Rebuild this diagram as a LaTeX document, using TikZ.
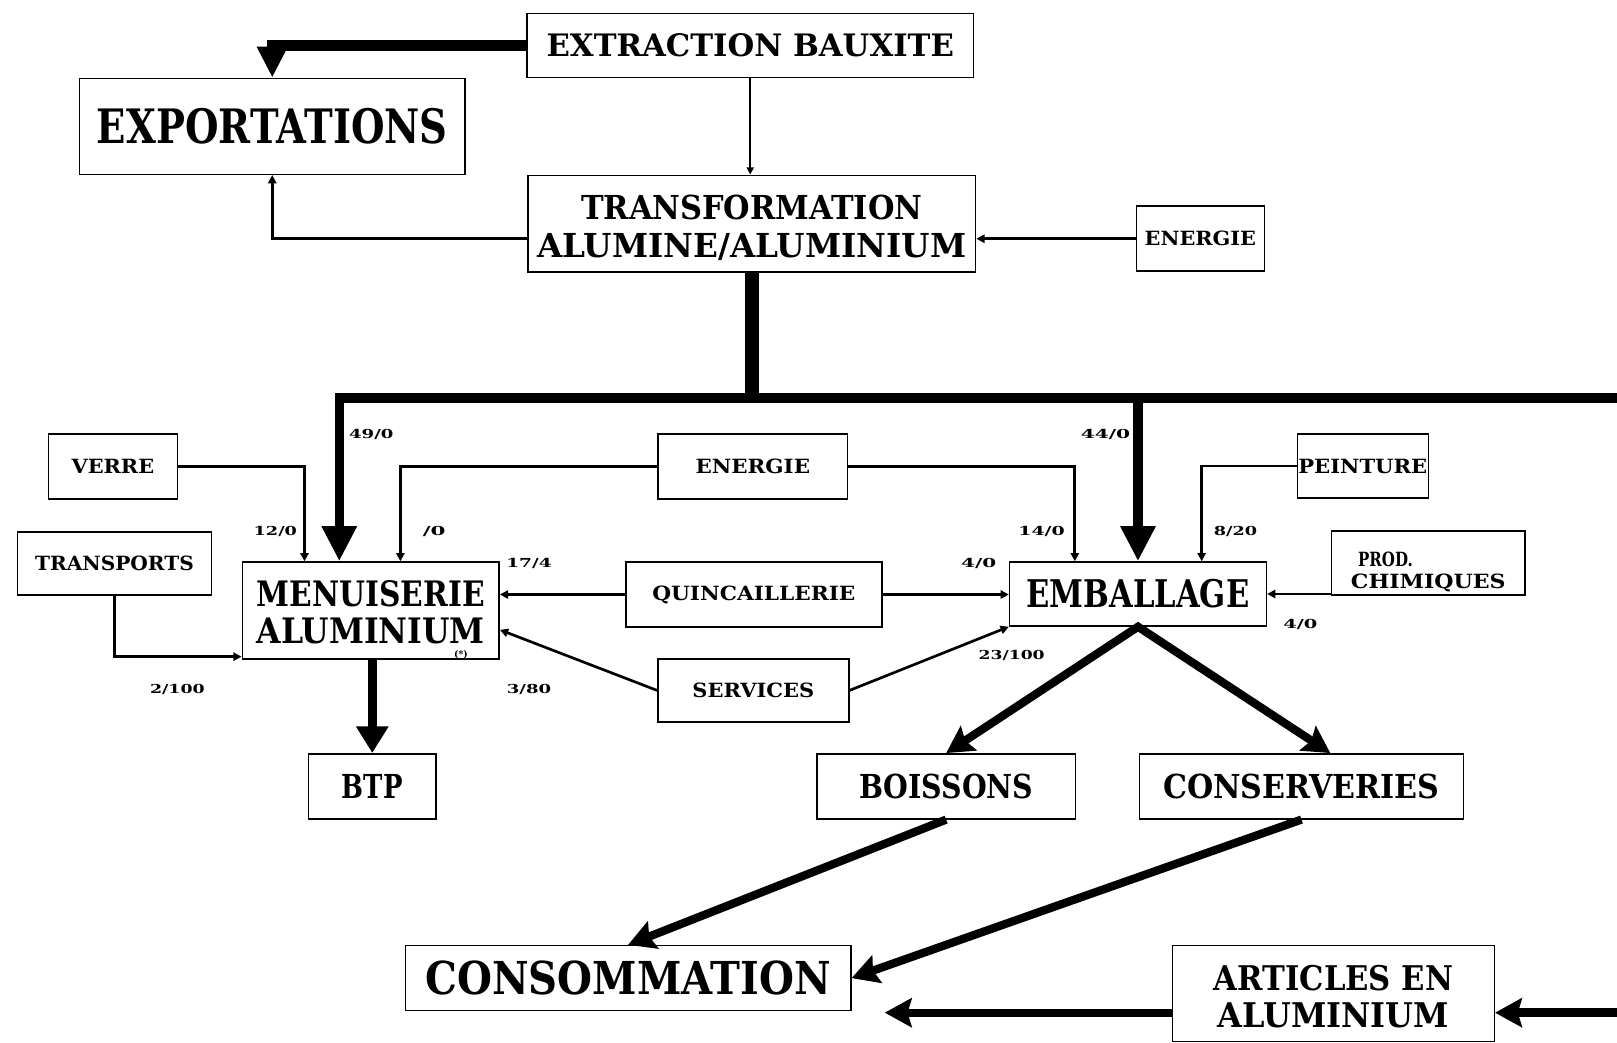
\documentclass[tikz,border=0pt]{standalone}
\usepackage{fontspec}
\setmainfont{DejaVu Serif}
\usetikzlibrary{arrows.meta,calc}
% set a text line to a given width (in pt), keeping its height
\newcommand\fw[2]{\resizebox{#1pt}{\height}{#2}}
% invisible strut that lowers a text block inside its box
\newcommand\topstrut[1]{\rule{0pt}{#1pt}}

\begin{document}
\begin{tikzpicture}[x=1pt,y=-1pt,
  box/.style={draw, line width=1.5pt, rectangle, inner sep=0pt, align=center},
  bigtxt/.style={font=\bfseries\fontsize{46}{50}\selectfont},
  midtxt/.style={font=\bfseries\fontsize{32}{37}\selectfont},
  smalltxt/.style={font=\bfseries\fontsize{19}{21}\selectfont},
  numtxt/.style={font=\bfseries\fontsize{12}{12}\selectfont, inner sep=0pt},
  thinarrow/.style={line width=2.6pt, -{Triangle[length=8pt,width=8pt]}},
  heavy/.style={line width=9pt},
  diag/.style={line width=8pt},
  bighead/.style={-{Triangle[length=34pt,width=32pt]}},
  stealthhead/.style={-{Stealth[length=26pt,width=28pt,inset=4pt]}}
]
\useasboundingbox (0,0) rectangle (1568,1011);
\clip (0,0) rectangle (1568,1011);
\fill[white] (0,0) rectangle (1568,1011);

% ---- boxes ----
\node[box, font=\bfseries\fontsize{30}{34}\selectfont, minimum width=433pt, minimum height=62pt] (extr) at (727.5,44) {\fw{395}{EXTRACTION BAUXITE}};
\node[box, bigtxt, minimum width=374pt, minimum height=93pt] (expo) at (264,122.5) {\fw{340}{EXPORTATIONS}};
\node[box, midtxt, minimum width=434pt, minimum height=94pt] (trans) at (729,217) {\topstrut{31}\fw{331}{TRANSFORMATION}\\\fw{416}{ALUMINE/ALUMINIUM}};
\node[box, smalltxt, minimum width=124pt, minimum height=63pt] (enT) at (1164,231.5) {\fw{108}{ENERGIE}};

\node[box, smalltxt, minimum width=125pt, minimum height=63pt] (verre) at (109.5,452.5) {\fw{80}{VERRE}};
\node[box, smalltxt, minimum width=188pt, minimum height=61pt] (transp) at (111,546.5) {\fw{154}{TRANSPORTS}};
\node[box, smalltxt, minimum width=184pt, minimum height=63pt] (enM) at (730,452.5) {\fw{111}{ENERGIE}};
\node[box, font=\bfseries\fontsize{34}{36}\selectfont, minimum width=249pt, minimum height=94pt] (menu) at (359.5,592) {\topstrut{29}\fw{221}{MENUISERIE}\\\fw{221}{ALUMINIUM}};
\node[font=\bfseries\fontsize{9}{9}\selectfont, inner sep=0pt] (star) at (447,634.5) {(*)};
\node[box, smalltxt, minimum width=248pt, minimum height=63pt] (quin) at (731,576.5) {\fw{197}{QUINCAILLERIE}};
\node[box, smalltxt, minimum width=185pt, minimum height=61pt] (serv) at (730.5,669.5) {\fw{118}{SERVICES}};
\node[box, font=\bfseries\fontsize{37}{40}\selectfont, minimum width=249pt, minimum height=62pt] (emb) at (1103.5,576) {\fw{216}{EMBALLAGE}};
\node[box, smalltxt, minimum width=127pt, minimum height=62pt] (pein) at (1321.5,452) {\fw{125}{PEINTURE}};
\node[box, smalltxt, align=left, minimum width=188pt, minimum height=62pt] (prod) at (1385,546) {\topstrut{32}\hspace*{7pt}\fw{53}{PROD.}\\\fw{150}{CHIMIQUES}};

\node[box, midtxt, minimum width=124pt, minimum height=63pt] (btp) at (361,762.5) {\fw{59}{BTP}};
\node[box, midtxt, minimum width=251pt, minimum height=63pt] (bois) at (917.5,762.5) {\fw{169}{BOISSONS}};
\node[box, midtxt, minimum width=314pt, minimum height=63pt] (cons) at (1262,762.5) {\fw{268}{CONSERVERIES}};
\node[box, font=\bfseries\fontsize{44}{48}\selectfont, minimum width=432pt, minimum height=63pt] (conso) at (609,948.5) {\fw{393}{CONSOMMATION}};
\node[box, font=\bfseries\fontsize{33}{36}\selectfont, minimum width=312pt, minimum height=93pt] (art) at (1293,963.5) {\topstrut{30}\fw{232}{ARTICLES EN}\\\fw{224}{ALUMINIUM}};

% ---- flow figures ----
\node[numtxt] (l49) at (360,421) {\fw{43}{49/0}};
\node[numtxt] (l44) at (1072,421) {\fw{48}{44/0}};
\node[numtxt] (l12) at (267,515) {\fw{42}{12/0}};
\node[numtxt] (l0) at (421,515) {\fw{22}{/0}};
\node[numtxt] (l14) at (1010,515) {\fw{45}{14/0}};
\node[numtxt] (l820) at (1198,515) {\fw{42}{8/20}};
\node[numtxt] (l174) at (513,546) {\fw{44}{17/4}};
\node[numtxt] (l40a) at (949,546) {\fw{34}{4/0}};
\node[numtxt] (l40b) at (1261,606) {\fw{33}{4/0}};
\node[numtxt] (l2100) at (172,669) {\fw{53}{2/100}};
\node[numtxt] (l380) at (513,669) {\fw{43}{3/80}};
\node[numtxt] (l23100) at (981,636) {\fw{64}{23/100}};

% ---- helper points ----
\coordinate (busL) at (329,386);
\coordinate (busR) at (1572,386);
\coordinate (edgeB) at (1572,982);
\coordinate (artEnd) at (858,982);

% ---- upper part ----
\draw[line width=10pt, -{Triangle[length=30pt,width=28pt]}] (extr.west) -| (expo.north);
\draw[line width=2pt, -{Triangle[length=7pt,width=7pt]}] (extr.south) -- (extr.south |- trans.north);
\draw[thinarrow] (trans.west |- enT.west) -| (expo.south);
\draw[thinarrow] (enT.west) -- (enT.west -| trans.east);

% ---- main aluminium distribution ----
\draw[line width=14pt] (trans.south) -- (trans.south |- busL);
\draw[heavy, bighead] (busR) -- (busL) -- (busL |- menu.north);
\draw[heavy, bighead] (emb.north |- busL) -- (emb.north);
\draw[heavy, stealthhead] (busR) -- (edgeB) -- (edgeB -| art.east);

% ---- inputs to menuiserie ----
\draw[thinarrow] (verre.east) -| ($(menu.north west)+(61,0)$);
\draw[thinarrow] (transp.south) |- ($(menu.south west)+(0,-3)$);
\draw[thinarrow] (enM.west) -| ($(menu.north west)+(154,0)$);
\draw[thinarrow] (quin.west) -- (quin.west -| menu.east);
\draw[thinarrow] (serv.west) -- ($(menu.south east)+(0,-29)$);

% ---- inputs to emballage ----
\draw[thinarrow] (enM.east) -| ($(emb.north west)+(64,0)$);
\draw[thinarrow] (quin.east) -- (quin.east -| emb.west);
\draw[thinarrow] (serv.east) -- (emb.south west);
\draw[thinarrow] (pein.west) -| ($(emb.north west)+(187,0)$);
\draw[thinarrow] (emb.east -| prod.west) -- (emb.east);

% ---- outputs ----
\draw[heavy, -{Triangle[length=26pt,width=30pt]}] (menu.south -| btp.north) -- (btp.north);
\draw[diag, {Stealth[length=26pt,width=28pt,inset=4pt]}-{Stealth[length=26pt,width=28pt,inset=4pt]}]
  (bois.north) -- (emb.south) -- ($(cons.north)+(28,0)$);
\draw[diag, stealthhead] (bois.south) -- (conso.north);
\draw[diag, stealthhead] (cons.south) -- (conso.east);
\draw[diag, stealthhead] (art.west |- artEnd) -- (artEnd);
\end{tikzpicture}
\end{document}
